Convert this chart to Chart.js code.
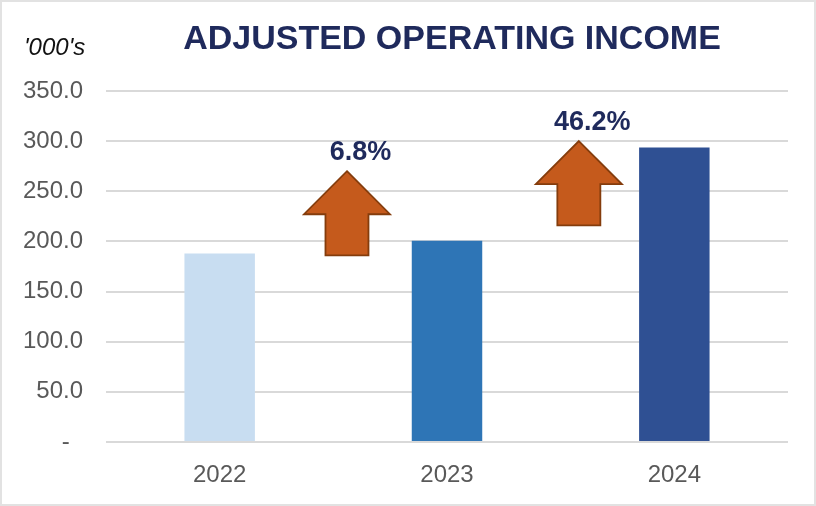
<!DOCTYPE html>
<html>
<head>
<meta charset="utf-8">
<script src="https://cdn.jsdelivr.net/npm/chart.js@4"></script>
<style>
  body { margin: 0; background: #fff; }
  #wrap { position: relative; width: 816px; height: 506px; }
  #chart { position: absolute; left: 0; top: 0; }
  #frame { position: absolute; left: 0; top: 0; width: 816px; height: 506px;
    box-sizing: border-box; border: 2px solid #e2e2e2; pointer-events: none; }
</style>
</head>
<body>
<div id="wrap">
  <canvas id="chart" width="816" height="506"></canvas>
  <div id="frame"></div>
</div>
<script>
const years = ['2022', '2023', '2024'];
const income = [188.0, 200.8, 293.6];
const growthLabels = ['6.8%', '46.2%'];
const yTicks = [0, 50, 100, 150, 200, 250, 300, 350];

const barColors = ['#c8ddf1', '#2e75b6', '#2f5093'];
const navy = '#1f2a5c';

// arrows sit between the bars, x in category units, y in axis units
const arrows = [
  { x: 0.56, bottom: 186, top: 270, label: growthLabels[0] },
  { x: 1.58, bottom: 216, top: 300, label: growthLabels[1] }
];

const extras = {
  id: 'extras',
  afterDatasetsDraw(chart) {
    const ctx = chart.ctx;
    const xs = chart.scales.x, ys = chart.scales.y;
    ctx.save();

    // title and unit
    ctx.fillStyle = navy;
    ctx.font = 'bold 34px "Liberation Sans", Arial, sans-serif';
    ctx.textAlign = 'center';
    ctx.textBaseline = 'alphabetic';
    ctx.fillText('ADJUSTED OPERATING INCOME', 452, 49);

    ctx.fillStyle = '#111';
    ctx.font = 'italic 24px "Liberation Sans", Arial, sans-serif';
    ctx.textAlign = 'left';
    ctx.fillText("'000's", 24, 55);

    arrows.forEach(a => {
      const cx = xs.getPixelForValue(a.x);
      const tip = ys.getPixelForValue(a.top);
      const bot = ys.getPixelForValue(a.bottom);
      const headH = 43, headW = 43, shaftW = 21.5;
      ctx.beginPath();
      ctx.moveTo(cx, tip);
      ctx.lineTo(cx + headW, tip + headH);
      ctx.lineTo(cx + shaftW, tip + headH);
      ctx.lineTo(cx + shaftW, bot);
      ctx.lineTo(cx - shaftW, bot);
      ctx.lineTo(cx - shaftW, tip + headH);
      ctx.lineTo(cx - headW, tip + headH);
      ctx.closePath();
      ctx.fillStyle = '#c55a1c';
      ctx.fill();
      ctx.lineWidth = 1.8;
      ctx.strokeStyle = '#843c0c';
      ctx.lineJoin = 'miter';
      ctx.stroke();

      ctx.fillStyle = navy;
      ctx.font = 'bold 27px "Liberation Sans", Arial, sans-serif';
      ctx.textAlign = 'center';
      ctx.fillText(a.label, cx + 13.5, tip - 11);
    });
    ctx.restore();
  }
};

new Chart(document.getElementById('chart'), {
  type: 'bar',
  data: {
    labels: years,
    datasets: [{
      data: income,
      backgroundColor: barColors,
      barPercentage: 0.31,
      categoryPercentage: 1
    }]
  },
  options: {
    responsive: false,
    animation: false,
    layout: { padding: { top: 91, right: 28, left: 0, bottom: 0 } },
    plugins: { legend: { display: false }, tooltip: { enabled: false } },
    scales: {
      x: {
        grid: { display: false, drawTicks: false },
        border: { display: false },
        ticks: { color: '#595959', padding: 19, font: { size: 24, family: '"Liberation Sans", Arial, sans-serif' } },
        afterFit(scale) { scale.height = 64; }
      },
      y: {
        min: 0,
        max: 350,
        afterBuildTicks(scale) { scale.ticks = yTicks.map(v => ({ value: v })); },
        grid: { color: '#d9d9d9', lineWidth: 2, drawTicks: false },
        border: { display: false },
        ticks: {
          color: '#595959',
          padding: 23,
          font: { size: 24, family: '"Liberation Sans", Arial, sans-serif' },
          callback: v => v === 0 ? '-  ' : v.toFixed(1)
        },
        afterFit(scale) { scale.width = 106; }
      }
    }
  },
  plugins: [extras]
});
</script>
</body>
</html>
